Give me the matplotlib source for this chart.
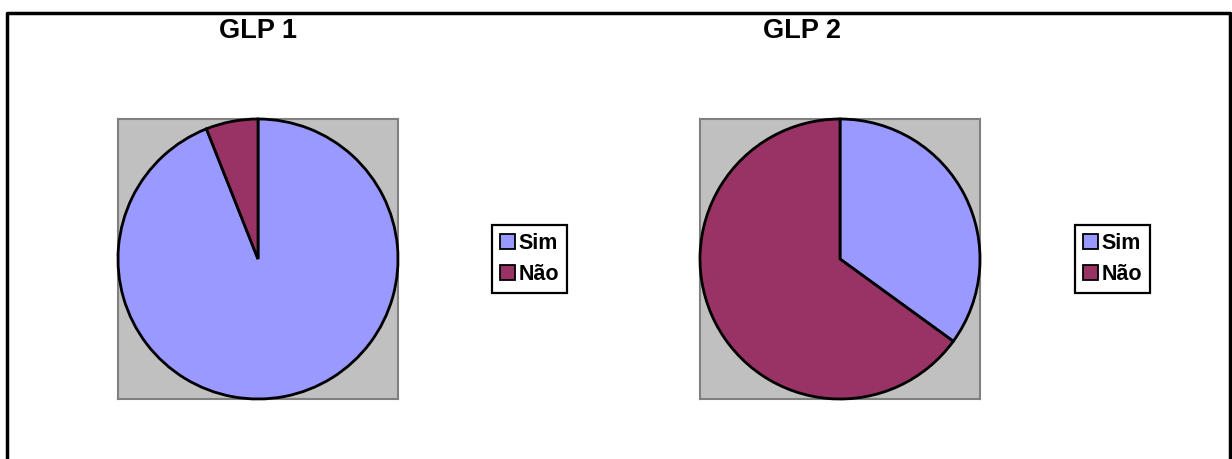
import matplotlib
matplotlib.use("Agg")
import matplotlib.pyplot as plt
from matplotlib.patches import Patch
from matplotlib.lines import Line2D

plt.rcParams['font.family'] = ['Liberation Sans', 'DejaVu Sans']

# dados
categorias = ['Sim', 'Não']
titulos = ['GLP 1', 'GLP 2']
glp1 = [94, 6]
glp2 = [35, 65]
cores = ['#9999FF', '#993366']

W, H = 1232, 459
fig = plt.figure(figsize=(W / 100, H / 100), dpi=100)

# moldura do grafico (sem a linha de baixo, fica fora da imagem)
fig.add_artist(Line2D([7 / W, 7 / W, 1230 / W, 1230 / W],
                      [0, 1 - 13 / H, 1 - 13 / H, 0],
                      transform=fig.transFigure, color='black', lw=2.5))

def desenha_pizza(x0, valores, titulo, x_titulo, x_legenda):
    ax = fig.add_axes([x0 / W, (H - 399) / H, 280 / W, 280 / H])
    ax.pie(valores, colors=cores, startangle=90, counterclock=False,
           radius=1, wedgeprops=dict(edgecolor='black', linewidth=2, zorder=3))
    ax.set_xlim(-1.0, 1.0)
    ax.set_ylim(-1.0, 1.0)
    ax.set_frame_on(True)
    ax.patch.set_visible(True)
    ax.set_facecolor('#C0C0C0')
    ax.set_xticks([])
    ax.set_yticks([])
    for s in ax.spines.values():
        s.set_visible(True)
        s.set_color('#808080')
        s.set_linewidth(1.5)
        s.set_zorder(1)
    fig.text(x_titulo / W, 1 - 31 / H, titulo, ha='center', va='center',
             fontsize=19.5, fontweight='bold')
    handles = [Patch(facecolor=c, edgecolor='black', linewidth=1.3) for c in cores]
    leg = fig.legend(handles, categorias, loc='center left',
                     bbox_to_anchor=(x_legenda / W, 1 - 259 / H),
                     prop=dict(size=15.5, weight='bold'),
                     handlelength=0.7, handleheight=0.7, handletextpad=0.2,
                     labelspacing=0.5, borderpad=0.35, borderaxespad=0,
                     fancybox=False, framealpha=1)
    leg.get_frame().set_edgecolor('black')
    leg.get_frame().set_linewidth(1.6)

desenha_pizza(118, glp1, titulos[0], 258, 492)
desenha_pizza(700, glp2, titulos[1], 802, 1075)

fig.savefig('out.png', dpi=100)
